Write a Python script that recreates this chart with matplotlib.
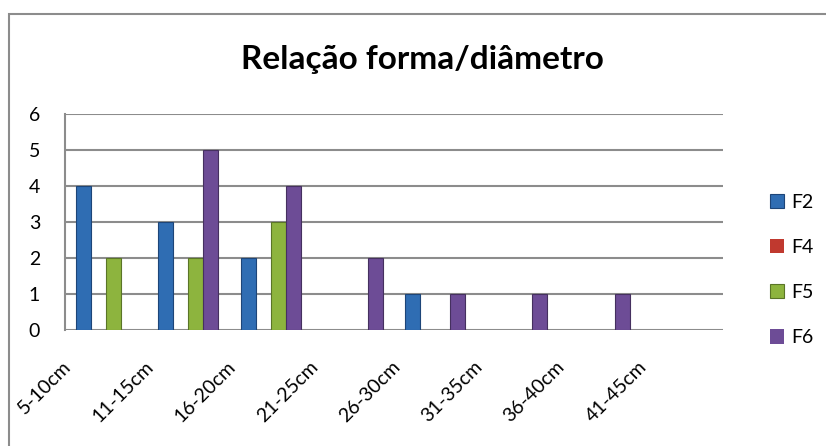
import numpy as np
import matplotlib
matplotlib.use("Agg")
import matplotlib.pyplot as plt
from matplotlib.patches import Rectangle
from matplotlib.transforms import ScaledTranslation

plt.rcParams['font.family'] = ['Lato', 'DejaVu Sans']

categories = ["5-10cm", "11-15cm", "16-20cm", "21-25cm",
              "26-30cm", "31-35cm", "36-40cm", "41-45cm"]
series = ["F2", "F4", "F5", "F6"]
f2 = [4, 3, 2, 0, 1, 0, 0, 0]
f4 = [0, 0, 0, 0, 0, 0, 0, 0]
f5 = [2, 2, 3, 0, 0, 0, 0, 0]
f6 = [0, 5, 4, 2, 1, 1, 1, 0]
values = [f2, f4, f5, f6]

colors = ["#2f6db3", "#c0392f", "#8db43e", "#6d4c96"]
edges = ["#1d4578", "#7a2320", "#5a7527", "#45305f"]

W, H = 826, 446
fig = plt.figure(figsize=(W / 100, H / 100), dpi=100)
fig.patch.set_facecolor("white")

# outer chart frame (only left and top visible in the crop)
fig.patches.append(Rectangle((9 / W, -0.1), 1.2, 1.1 - 14 / H,
                             transform=fig.transFigure, fill=False,
                             edgecolor="#8c8c8c", linewidth=1.5))

ax = fig.add_axes([65 / W, 1 - 330 / H, (723 - 65) / W, (330 - 114) / H])

x = np.arange(len(categories))
bw = 0.182
handles = []
for i, (name, vals) in enumerate(zip(series, values)):
    lw = [0.8 if v > 0 else 0 for v in vals]  # hide zero-height bars
    b = ax.bar(x + (i - 1.5) * bw, vals, bw, color=colors[i],
               edgecolor=edges[i], linewidth=lw, label=name, zorder=3)
    handles.append(b)

ax.set_xlim(-0.5, len(categories) - 0.5)
ax.set_ylim(0, 6)
ax.set_yticks(range(7))
ax.yaxis.grid(True, color="#8c8c8c", linewidth=1.5, zorder=0)
ax.set_axisbelow(True)
for s in ["top", "right", "bottom"]:
    ax.spines[s].set_visible(False)
ax.spines["left"].set_color("#8c8c8c")
ax.spines["left"].set_linewidth(1.5)
ax.tick_params(axis="both", length=0, labelsize=14)
ax.tick_params(axis="y", pad=18)
ax.tick_params(axis="x", pad=20)

ax.set_xticks(x)
ax.set_xticklabels(categories, rotation=45, ha="right", va="top")
# excel's 3d layout puts the labels a bit left of the bar groups
off = ScaledTranslation(-32 / 100, 0, fig.dpi_scale_trans)
for lbl in ax.get_xticklabels():
    lbl.set_transform(lbl.get_transform() + off)

fig.text(422 / W, 1 - 60 / H, "Relação forma/diâmetro", ha="center",
         va="center", fontsize=24, fontweight="bold")

fig.legend(handles=handles, labels=series, loc="center left",
           bbox_to_anchor=(760 / W, 1 - 270 / H), frameon=False,
           fontsize=14, handlelength=0.75, handleheight=0.75,
           handletextpad=0.35, labelspacing=1.45, borderpad=0)

fig.savefig("out.png", dpi=100)
